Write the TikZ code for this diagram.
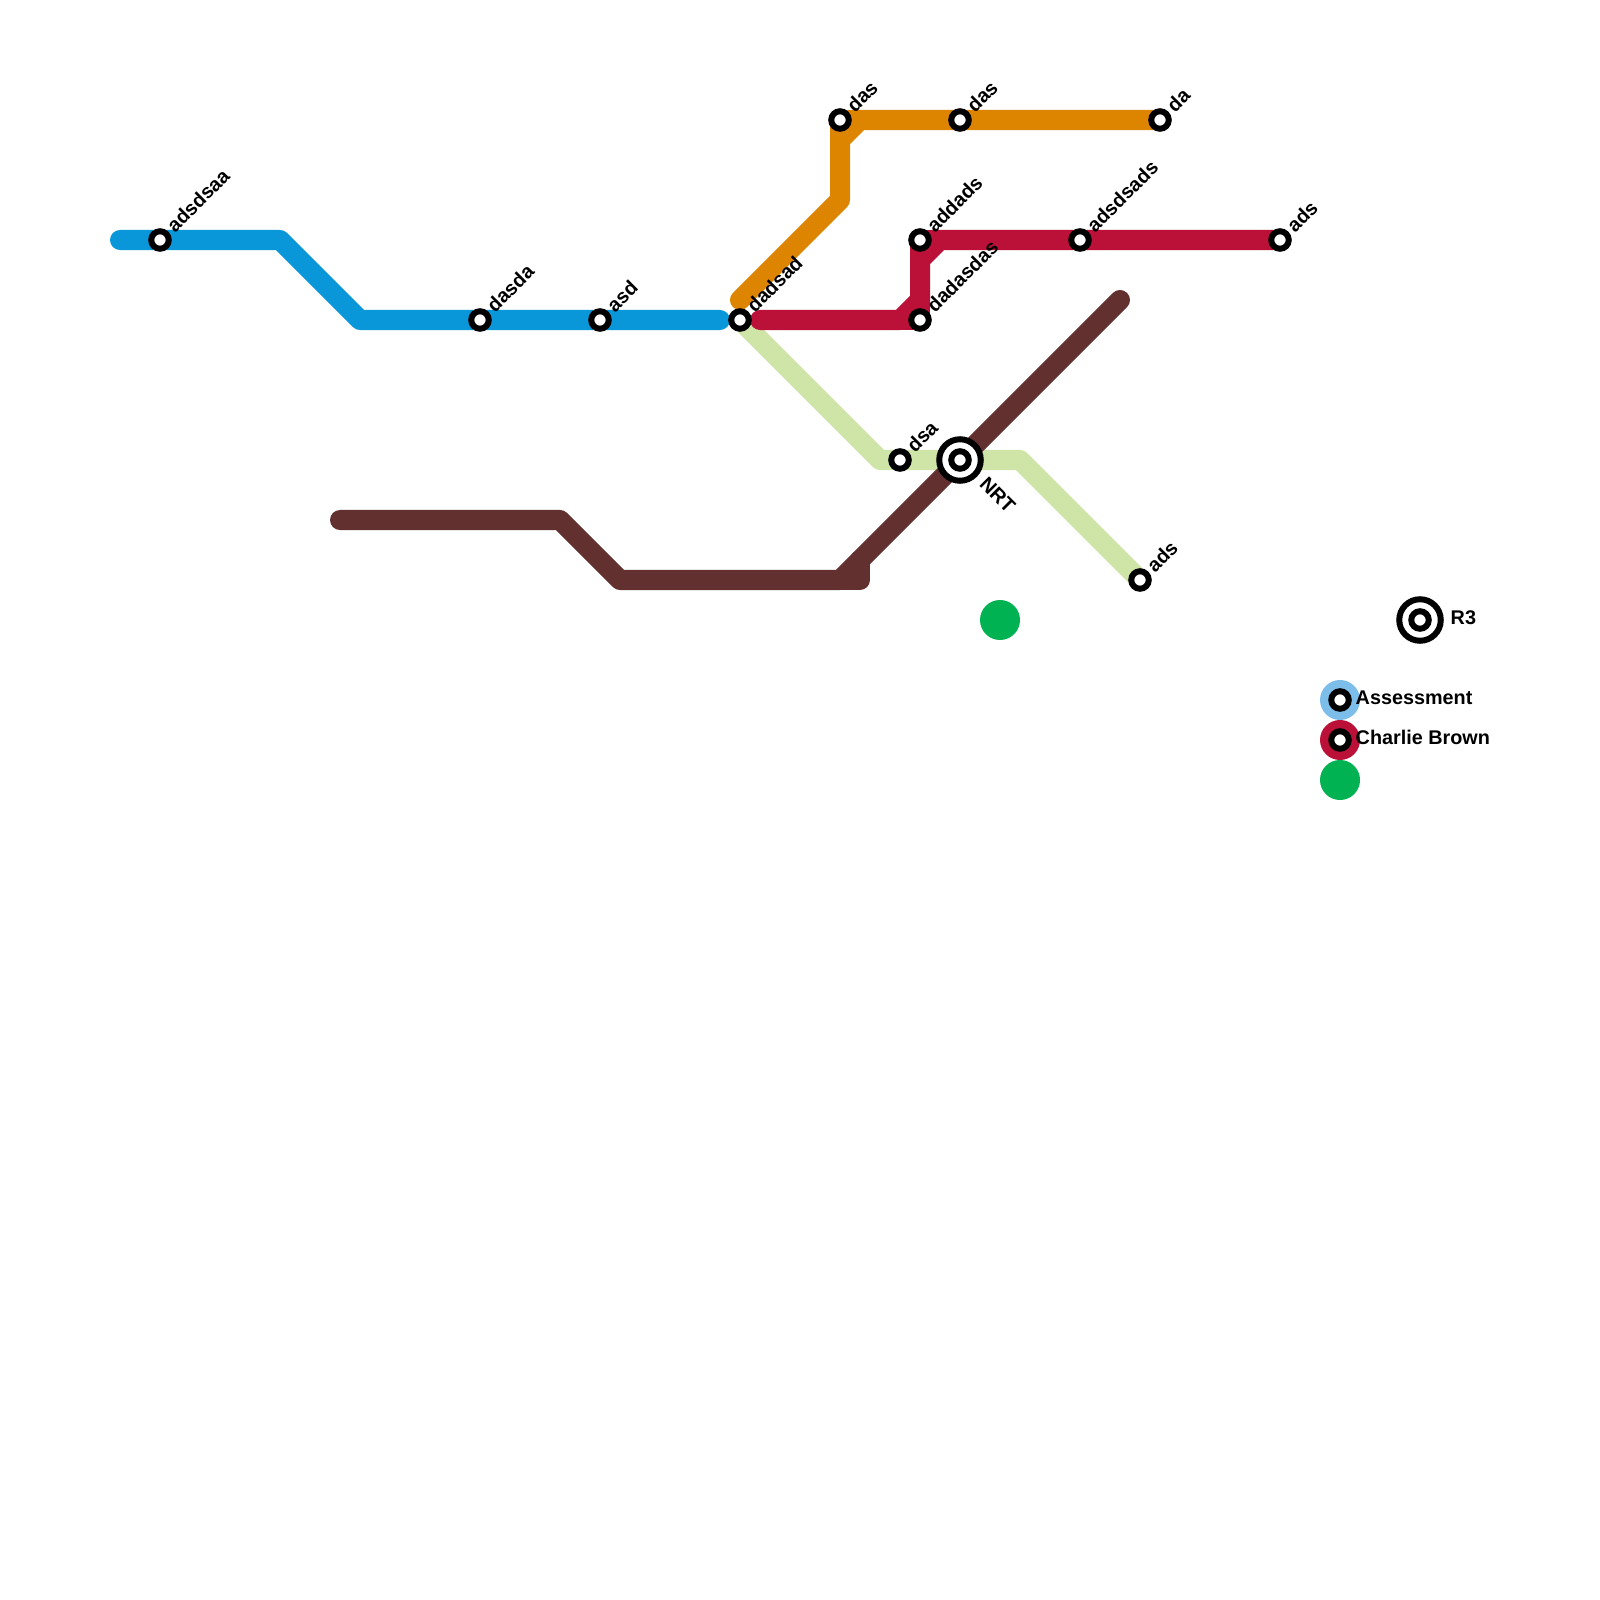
\documentclass[tikz,border=0pt]{standalone}
\usepackage{fontspec}
\setmainfont{Liberation Sans}
\usetikzlibrary{backgrounds}
\definecolor{blueline}{HTML}{0A97D9}
\definecolor{orangeline}{HTML}{DD8500}
\definecolor{redline}{HTML}{BB1037}
\definecolor{brownline}{HTML}{633030}
\definecolor{paleline}{HTML}{CFE4A7}
\definecolor{greendot}{HTML}{00B251}
\definecolor{skydot}{HTML}{7DBDE9}
\tikzset{
  route/.style={line width=2mm,line cap=round,line join=round},
  stop/.style={circle,draw=black,fill=white,line width=0.6mm,inner sep=0,outer sep=0,minimum size=1.75mm},
  hub/.style={circle,draw=black,fill=white,line width=0.6mm,inner sep=0,outer sep=0,minimum size=4.15mm},
  dot/.style={circle,inner sep=0,outer sep=0,minimum size=4mm},
  up/.style={rotate=45,anchor=base west,inner sep=0,font=\fontsize{5.63pt}{7pt}\bfseries},
  down/.style={rotate=-45,anchor=base west,inner sep=0,font=\fontsize{5.63pt}{7pt}\bfseries},
  side/.style={anchor=base west,inner sep=0,font=\fontsize{5.63pt}{7pt}\bfseries},
}
\begin{document}
\begin{tikzpicture}[x=0.01cm,y=-0.01cm]
  \useasboundingbox (0,0) rectangle (1600,1600);
  % stations
  \node[stop] (b1) at (160,240)  {};
  \node[stop] (b2) at (480,320)  {};
  \node[stop] (b3) at (600,320)  {};
  \node[stop] (j)  at (740,320)  {};
  \node[stop] (o1) at (840,120)  {};
  \node[stop] (o2) at (960,120)  {};
  \node[stop] (o3) at (1160,120) {};
  \node[stop] (r1) at (920,240)  {};
  \node[stop] (r2) at (1080,240) {};
  \node[stop] (r3) at (1280,240) {};
  \node[stop] (r4) at (920,320)  {};
  \node[stop] (p1) at (900,460)  {};
  \node[stop] (p2) at (1140,580) {};
  \node[hub]  (nrt) at (960,460) {};
  \node[stop] (nrti) at (960,460) {};
  \node[hub]  (rr) at (1420,620) {};
  \node[stop] (rri) at (1420,620) {};
  % legend
  \node[dot,fill=greendot] (g1) at (1000,620) {};
  \node[dot,fill=skydot]   (k1) at (1340,700) {};
  \node[dot,fill=redline]  (k2) at (1340,740) {};
  \node[dot,fill=greendot] (k3) at (1340,780) {};
  \node[stop] (k1i) at (1340,700) {};
  \node[stop] (k2i) at (1340,740) {};
  % labels
  \node[up] (t1)  at ([shift={(14.5,-6)}]b1) {adsdsaa};
  \node[up] (t2)  at ([shift={(14.5,-6)}]b2) {dasda};
  \node[up] (t3)  at ([shift={(14.5,-6)}]b3) {asd};
  \node[up] (t4)  at ([shift={(14.5,-6)}]j)  {dadsad};
  \node[up] (t5)  at ([shift={(14.5,-6)}]o1) {das};
  \node[up] (t6)  at ([shift={(14.5,-6)}]o2) {das};
  \node[up] (t7)  at ([shift={(14.5,-6)}]o3) {da};
  \node[up] (t8)  at ([shift={(14.5,-6)}]r1) {addads};
  \node[up] (t9)  at ([shift={(14.5,-6)}]r2) {adsdsads};
  \node[up] (t10) at ([shift={(14.5,-6)}]r3) {ads};
  \node[up] (t11) at ([shift={(14.5,-6)}]r4) {dadasdas};
  \node[up] (t12) at ([shift={(14.5,-6)}]p1) {dsa};
  \node[up] (t13) at ([shift={(14.5,-6)}]p2) {ads};
  \node[down] (t14) at ([shift={(18,25)}]nrt) {NRT};
  \node[side] (t15) at ([shift={(30,4.5)}]rr) {R3};
  \node[side] (t16) at ([shift={(15,4.5)}]k1) {Assessment};
  \node[side] (t17) at ([shift={(15,4.5)}]k2) {Charlie Brown};
  % routes
  \coordinate (bs) at (120,240);
  \coordinate (bc) at (280,240);
  \coordinate (bd) at (360,320);
  \coordinate (be) at (720,320);
  \coordinate (os) at (740,300);
  \coordinate (oc) at (840,200);
  \coordinate (od) at (840,140);
  \coordinate (oe) at (860,120);
  \coordinate (rs) at (760,320);
  \coordinate (rc) at (900,320);
  \coordinate (rd) at (920,300);
  \coordinate (re) at (920,260);
  \coordinate (rf) at (940,240);
  \coordinate (pc) at (880,460);
  \coordinate (pd) at (1020,460);
  \coordinate (ws) at (340,520);
  \coordinate (wc) at (560,520);
  \coordinate (wd) at (620,580);
  \coordinate (we) at (840,580);
  \coordinate (wf) at (860,580);
  \coordinate (wg) at (860,560);
  \coordinate (wh) at (1120,300);
  \begin{scope}[on background layer]
    \draw[route,paleline] (j.center) -- (pc) -- (p1.center) -- (nrt.center) -- (pd) -- (p2.center);
    \draw[route,brownline] (ws) -- (wc) -- (wd) -- (we) -- (wg) -- (nrt.center) -- (wh);
    \draw[route,brownline] (we) -- (wf) -- (wg);
    \draw[route,blueline] (bs) -- (b1.center) -- (bc) -- (bd) -- (b2.center) -- (b3.center) -- (be);
    \draw[route,orangeline] (os) -- (oc) -- (od) -- (oe) -- (o2.center) -- (o3.center);
    \draw[route,orangeline] (od) -- (o1.center) -- (oe);
    \draw[route,redline] (rs) -- (rc) -- (rd) -- (re) -- (rf) -- (r2.center) -- (r3.center);
    \draw[route,redline] (rc) -- (r4.center) -- (rd);
    \draw[route,redline] (re) -- (r1.center) -- (rf);
  \end{scope}
\end{tikzpicture}
\end{document}
